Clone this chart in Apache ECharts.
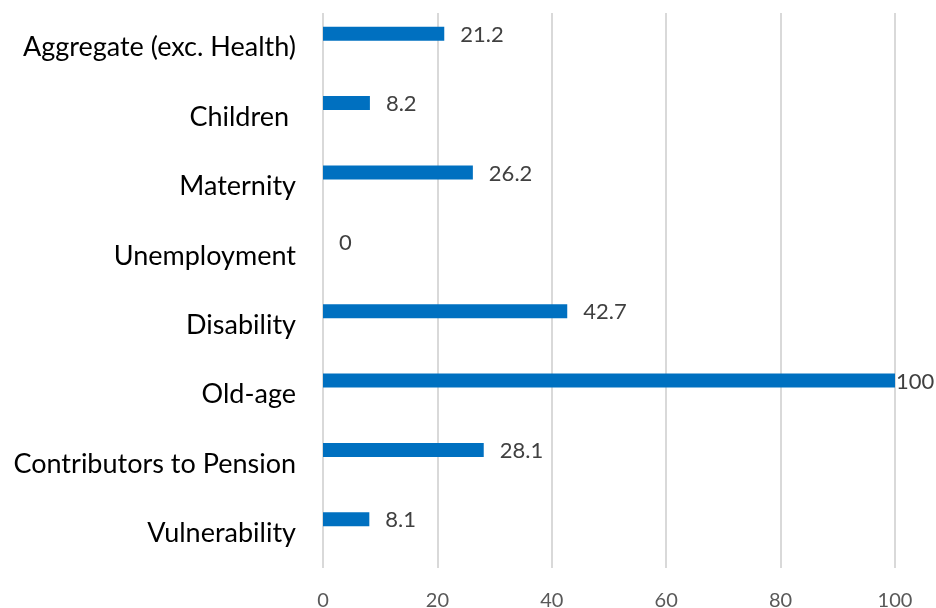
<!DOCTYPE html>
<html>
<head>
<meta charset="utf-8">
<script src="https://cdn.jsdelivr.net/npm/echarts@6/dist/echarts.min.js"></script>
<style>
  html, body { margin: 0; padding: 0; background: #fff; }
  #chart { width: 936px; height: 608px; }
</style>
</head>
<body>
<div id="chart"></div>
<script>
// Programme categories, listed top to bottom
const categories = [
  'Aggregate (exc. Health)',
  'Children ',
  'Maternity',
  'Unemployment',
  'Disability',
  'Old-age',
  'Contributors to Pension',
  'Vulnerability'
];

// Coverage values per category
const coverage = [21.2, 8.2, 26.2, 0, 42.7, 100, 28.1, 8.1];

// Value axis ticks
const axisMin = 0;
const axisMax = 100;
const axisStep = 20;

const FONT = 'Lato, "Open Sans", sans-serif';

const chart = echarts.init(document.getElementById('chart'), null, { renderer: 'canvas' });

// A label at the far end of the axis sits flush against the bar end
const barData = coverage.map(v => v >= axisMax ? { value: v, label: { distance: 1 } } : v);

chart.setOption({
  animation: false,
  grid: { left: 323, right: 41, top: 13, bottom: 40, containLabel: false, outerBoundsMode: 'none' },
  xAxis: {
    type: 'value',
    min: axisMin,
    max: axisMax,
    interval: axisStep,
    axisLine: { show: false },
    axisTick: { show: false },
    splitLine: { show: true, lineStyle: { color: '#d9d9d9', width: 2 } },
    axisLabel: { color: '#595959', fontSize: 20, fontFamily: FONT, margin: 23 }
  },
  yAxis: {
    type: 'category',
    data: categories,
    inverse: true,
    axisLine: { show: false },
    axisTick: { show: false },
    axisLabel: { color: '#000000', fontSize: 27, fontFamily: FONT, margin: 27 }
  },
  series: [
    {
      name: 'Coverage',
      type: 'bar',
      data: barData,
      barWidth: 14,
      barGap: '100%',
      itemStyle: { color: '#0070c0' },
      label: {
        show: true,
        position: 'right',
        distance: 16,
        offset: [0, 1],
        color: '#404040',
        fontSize: 22,
        fontFamily: FONT
      }
    },
    {
      name: 'Blank',
      type: 'bar',
      data: categories.map(() => null),
      barWidth: 14,
      silent: true
    }
  ]
});
</script>
</body>
</html>
